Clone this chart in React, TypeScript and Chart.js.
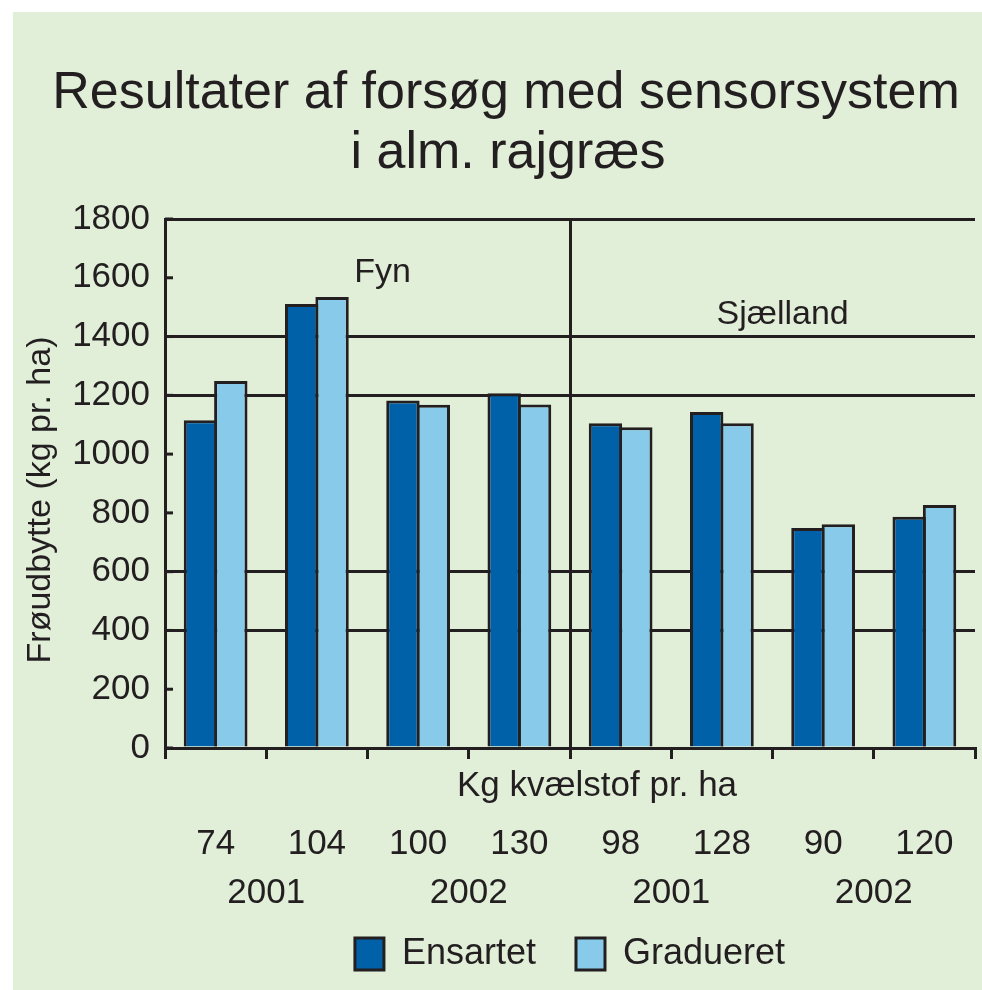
import React, { useEffect, useRef } from "react";
import { Chart, registerables } from "chart.js";
Chart.register(...registerables);

const titleLines = ["Resultater af forsøg med sensorsystem", "i alm. rajgræs"];
const yAxisTitle = "Frøudbytte (kg pr. ha)";
const xAxisTitle = "Kg kvælstof pr. ha";
const categories = ["74", "104", "100", "130", "98", "128", "90", "120"];
const years = ["2001", "2002", "2001", "2002"];
const regionNames = ["Fyn", "Sjælland"];
const regionPos = [1.65, 5.6];
const regionVal = [1616, 1473];
const seriesNames = ["Ensartet", "Gradueret"];
const ensartet = [1115, 1511, 1182, 1207, 1105, 1143, 749, 787];
const gradueret = [1249, 1535, 1168, 1169, 1091, 1105, 761, 827];
const gridValues = [400, 600, 1200, 1400, 1800];

const INK = "#231f20";
const BG = "#e1efd9";
const DARK = "#0061a9";
const LIGHT = "#88caea";
const FONT = "'Liberation Sans', Arial, sans-serif";

const decorPlugin = {
  id: "decor",
  beforeDraw(chart: any) {
    const ctx = chart.ctx;
    ctx.save();
    ctx.fillStyle = "#ffffff";
    ctx.fillRect(0, 0, chart.width, chart.height);
    ctx.fillStyle = BG;
    ctx.fillRect(13, 12, chart.width - 13, chart.height - 12);
    ctx.restore();
  },
  afterDraw(chart: any) {
    const ctx = chart.ctx;
    const xs = chart.scales.x;
    const ys = chart.scales.y;
    ctx.save();
    ctx.fillStyle = INK;
    ctx.strokeStyle = INK;
    // title
    ctx.textAlign = "center";
    ctx.textBaseline = "alphabetic";
    ctx.font = `52px ${FONT}`;
    ctx.fillText(titleLines[0], 506, 108);
    ctx.fillText(titleLines[1], 508, 168);
    // y axis title
    ctx.save();
    ctx.translate(41, 500);
    ctx.rotate(-Math.PI / 2);
    ctx.font = `34px ${FONT}`;
    ctx.textBaseline = "middle";
    ctx.fillText(yAxisTitle, 0, 0);
    ctx.restore();
    // inner tick marks on y axis
    ctx.lineWidth = 3;
    ys.ticks.forEach((t: any) => {
      const y = ys.getPixelForValue(t.value);
      ctx.beginPath();
      ctx.moveTo(xs.left, y);
      ctx.lineTo(xs.left + 8, y);
      ctx.stroke();
    });
    // x axis title (above category labels)
    ctx.font = `35px ${FONT}`;
    ctx.textBaseline = "middle";
    ctx.fillText(xAxisTitle, (xs.left + xs.right) / 2 + 27, 786);
    // years
    years.forEach((yr, i) => {
      const x = (xs.getPixelForValue(2 * i) + xs.getPixelForValue(2 * i + 1)) / 2;
      ctx.fillText(yr, x, 893);
    });
    // region labels
    ctx.font = `34px ${FONT}`;
    regionNames.forEach((r, i) => {
      ctx.fillText(r, xs.getPixelForValue(regionPos[i]), ys.getPixelForValue(regionVal[i]));
    });
    ctx.restore();
  },
};

export default function App() {
  const ref = useRef<HTMLCanvasElement | null>(null);
  useEffect(() => {
    if (!ref.current) return;
    Chart.defaults.font.family = FONT;
    Chart.defaults.color = INK;
    const chart = new Chart(ref.current, {
      type: "bar",
      data: {
        labels: categories,
        datasets: [
          {
            label: seriesNames[0],
            data: ensartet,
            backgroundColor: DARK,
            borderColor: INK,
            borderWidth: 3,
            categoryPercentage: 0.6,
            barPercentage: 1.1,
          },
          {
            label: seriesNames[1],
            data: gradueret,
            backgroundColor: LIGHT,
            borderColor: INK,
            borderWidth: 3,
            categoryPercentage: 0.6,
            barPercentage: 1.1,
          },
        ],
      },
      options: {
        animation: false,
        responsive: false,
        maintainAspectRatio: false,
        layout: { padding: { top: 219, left: 0, right: 7, bottom: 8 } },
        plugins: {
          title: { display: false },
          tooltip: { enabled: false },
          legend: {
            display: true,
            position: "bottom",
            fullSize: false,
            labels: {
              color: INK,
              font: { size: 36, family: FONT },
              boxWidth: 29,
              boxHeight: 32,
              padding: 40,
            },
          },
        },
        scales: {
          x: {
            grid: {
              offset: true,
              color: (c: any) => (c.index === 4 || c.index === 8 ? INK : "rgba(0,0,0,0)"),
              tickColor: INK,
              lineWidth: 3,
              tickWidth: 3,
              tickLength: 11,
              drawTicks: true,
            },
            border: { display: true, color: INK, width: 3 },
            ticks: {
              color: INK,
              font: { size: 35, family: FONT },
              padding: 64,
              maxRotation: 0,
              autoSkip: false,
            },
            afterFit: (s: any) => {
              s.height = 148;
              s.paddingLeft = 0;
              s.paddingRight = 0;
            },
          },
          y: {
            min: 0,
            max: 1800,
            ticks: {
              stepSize: 200,
              color: INK,
              font: { size: 35, family: FONT },
              padding: 15,
              callback: (v: any) => String(v),
            },
            grid: {
              color: (c: any) => (c.tick && gridValues.includes(c.tick.value) ? INK : "rgba(0,0,0,0)"),
              lineWidth: 3,
              drawTicks: false,
            },
            border: { display: true, color: INK, width: 3 },
            afterFit: (s: any) => {
              s.width = 165;
            },
          },
        },
      },
      plugins: [decorPlugin],
    });
    return () => chart.destroy();
  }, []);
  return (
    <div style={{ position: "fixed", left: 0, top: 0, width: 982, height: 990, background: "#fff" }}>
      <canvas ref={ref} width={982} height={990} style={{ display: "block", width: 982, height: 990 }} />
    </div>
  );
}
